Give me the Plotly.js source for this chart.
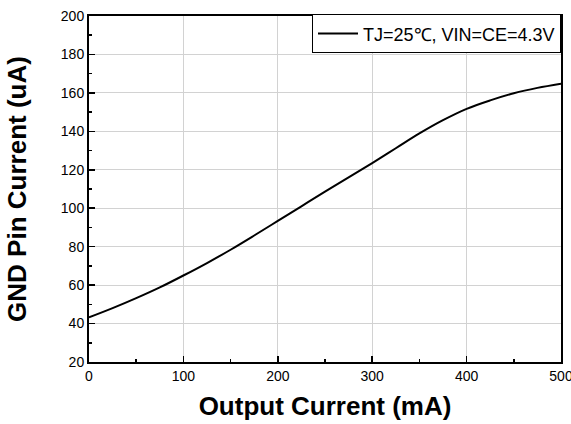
<!DOCTYPE html>
<html>
<head>
<meta charset="utf-8">
<script src="https://cdn.plot.ly/plotly-3.0.1.min.js"></script>
<style>html,body{margin:0;padding:0;background:#fff;}#chart{width:571px;height:424px;}</style>
</head>
<body>
<div id="chart"></div>
<script>
const outputCurrent = [0, 25, 50, 75, 100, 125, 150, 175, 200, 225, 250, 275, 300, 325, 350, 375, 400, 425, 450, 475, 500];
const gndCurrent = [43.2, 48, 53.2, 58.8, 65, 71.5, 78.4, 85.8, 93.4, 101, 108.6, 116, 123.5, 131.2, 138.9, 145.8, 151.7, 156.1, 159.8, 162.6, 164.8];
const seriesName = 'TJ=25\u2103, VIN=CE=4.3V';
const xTitle = 'Output Current (mA)';
const yTitle = 'GND Pin Current (uA)';

const font = 'Liberation Sans, Arial, sans-serif';
Plotly.newPlot('chart', [{
  x: outputCurrent, y: gndCurrent, type: 'scatter', mode: 'lines',
  name: seriesName, line: {color: '#000', width: 2, shape: 'spline', smoothing: 1}
}], {
  width: 571, height: 424,
  margin: {l: 89, r: 10, t: 16, b: 62},
  paper_bgcolor: '#fff', plot_bgcolor: '#fff',
  font: {family: font, color: '#000'},
  showlegend: true,
  legend: {x: 1, xanchor: 'right', y: 1.005, yanchor: 'top', bgcolor: '#fff', bordercolor: '#000', borderwidth: 1,
    font: {size: 18, family: font}, itemwidth: 40, tracegroupgap: 0},
  xaxis: {
    range: [0, 500], dtick: 100, tick0: 0, ticks: 'inside', ticklen: 6, tickwidth: 1.5, tickcolor: '#000',
    minor: {dtick: 50, ticks: 'inside', ticklen: 3, tickcolor: '#000', showgrid: false},
    showline: true, linecolor: '#000', linewidth: 2, mirror: true,
    showgrid: true, gridcolor: '#d2d2d2', gridwidth: 1, zeroline: false,
    tickfont: {size: 14, family: font}, ticklabeloverflow: 'allow',
    title: {text: xTitle, font: {size: 26, family: font, weight: 'bold'}, standoff: 14}
  },
  yaxis: {
    range: [20, 200], dtick: 20, tick0: 20, ticks: 'inside', ticklen: 6, tickwidth: 1.5, tickcolor: '#000',
    minor: {dtick: 10, ticks: 'inside', ticklen: 3, tickcolor: '#000', showgrid: false},
    showline: true, linecolor: '#000', linewidth: 2, mirror: true,
    showgrid: true, gridcolor: '#d2d2d2', gridwidth: 1, zeroline: false,
    tickfont: {size: 14, family: font},
    title: {text: yTitle, font: {size: 26, family: font, weight: 'bold'}, standoff: 27}
  }
}, {displayModeBar: false, staticPlot: true});
</script>
</body>
</html>
